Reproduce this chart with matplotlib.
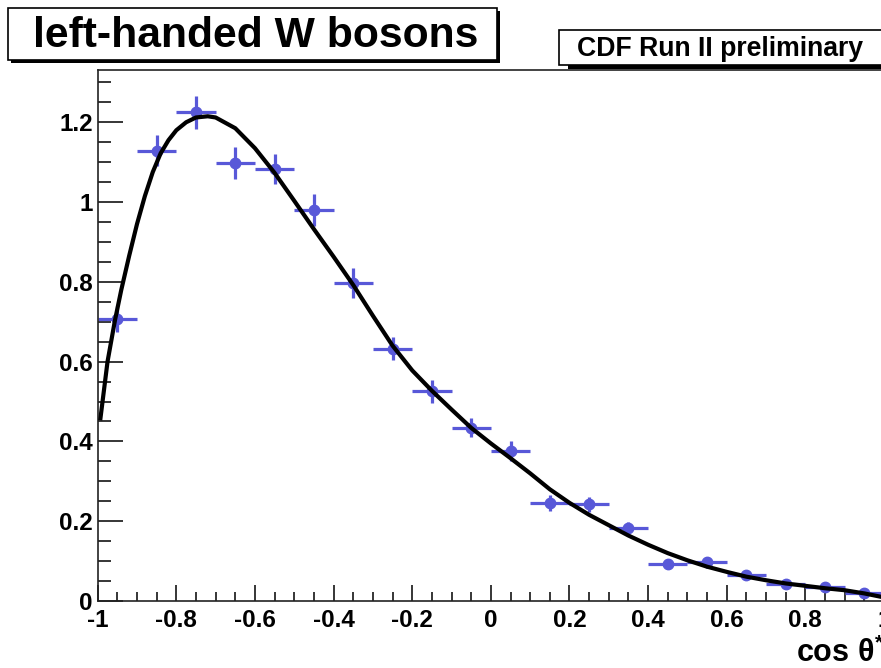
import numpy as np
import matplotlib
matplotlib.use("Agg")
import matplotlib.pyplot as plt
from matplotlib.patches import Rectangle
from matplotlib.ticker import MultipleLocator, FuncFormatter

plt.rcParams['font.family'] = ['Liberation Sans', 'DejaVu Sans']
plt.rcParams['font.weight'] = 'bold'
plt.rcParams['axes.unicode_minus'] = False
plt.rcParams['mathtext.fontset'] = 'custom'
plt.rcParams['mathtext.rm'] = 'Liberation Sans'
plt.rcParams['mathtext.bf'] = 'Liberation Sans:bold'
plt.rcParams['mathtext.it'] = 'Liberation Sans:italic'

# data points (bin centres, values, errors)
bin_centres = [-0.95, -0.85, -0.75, -0.65, -0.55, -0.45, -0.35, -0.25, -0.15, -0.05,
               0.05, 0.15, 0.25, 0.35, 0.45, 0.55, 0.65, 0.75, 0.85, 0.95]
values = [0.707, 1.129, 1.225, 1.099, 1.083, 0.979, 0.797, 0.632, 0.526, 0.434,
          0.376, 0.245, 0.242, 0.182, 0.093, 0.097, 0.065, 0.043, 0.036, 0.019]
y_err = [0.032, 0.038, 0.041, 0.040, 0.038, 0.040, 0.037, 0.029, 0.029, 0.024,
         0.025, 0.020, 0.019, 0.016, 0.012, 0.014, 0.012, 0.010, 0.010, 0.008]
bin_half = 0.05

# fit curve
fit_x = [-0.993, -0.975, -0.956, -0.94, -0.92, -0.90, -0.88, -0.86, -0.84, -0.82,
         -0.80, -0.775, -0.75, -0.72, -0.70, -0.65, -0.60, -0.55, -0.50, -0.45,
         -0.40, -0.35, -0.30, -0.25, -0.20, -0.15, -0.10, -0.05, 0.0, 0.05,
         0.10, 0.15, 0.20, 0.25, 0.30, 0.35, 0.40, 0.45, 0.50, 0.55,
         0.60, 0.65, 0.70, 0.75, 0.80, 0.85, 0.90, 0.95, 0.99]
fit_y = [0.458, 0.600, 0.704, 0.780, 0.865, 0.945, 1.015, 1.075, 1.122, 1.155,
         1.180, 1.200, 1.212, 1.215, 1.212, 1.185, 1.135, 1.073, 1.003, 0.932,
         0.863, 0.792, 0.715, 0.640, 0.578, 0.527, 0.480, 0.434, 0.395, 0.358,
         0.320, 0.280, 0.246, 0.216, 0.190, 0.164, 0.141, 0.120, 0.102, 0.086,
         0.073, 0.061, 0.052, 0.044, 0.038, 0.032, 0.027, 0.019, 0.011]

W, H = 881, 668
fig = plt.figure(figsize=(W / 100, H / 100), dpi=100)


def px(x0, y0):
    "pixel (from top-left) to figure fraction"
    return x0 / W, 1 - y0 / H


left, top, right, bottom = 97.7, 70, 884, 601
ax = fig.add_axes([left / W, 1 - bottom / H, (right - left) / W, (bottom - top) / H])

ax.plot(fit_x, fit_y, color='black', lw=3.0, zorder=3, solid_joinstyle='round')
ax.errorbar(bin_centres, values, xerr=bin_half, yerr=y_err, fmt='o', color='#5858d8',
            ms=7.5, elinewidth=2.3, capsize=0, zorder=2)

ax.set_xlim(-1, 1)
ax.set_ylim(0, 1.331)
ax.xaxis.set_major_locator(MultipleLocator(0.2))
ax.xaxis.set_minor_locator(MultipleLocator(0.05))
ax.yaxis.set_major_locator(MultipleLocator(0.2))
ax.yaxis.set_minor_locator(MultipleLocator(0.05))
fmt = FuncFormatter(lambda v, p: '%g' % round(v, 3))
ax.xaxis.set_major_formatter(fmt)
ax.yaxis.set_major_formatter(fmt)
ax.tick_params(axis='x', which='major', direction='in', length=11.5, width=1.1, pad=6, labelsize=17.5)
ax.tick_params(axis='x', which='minor', direction='in', length=6.3, width=1.1)
ax.tick_params(axis='y', which='major', direction='in', length=18, width=1.1, pad=3.5, labelsize=17.5)
ax.tick_params(axis='y', which='minor', direction='in', length=9.4, width=1.1)
for lab in ax.get_xticklabels() + ax.get_yticklabels():
    lab.set_fontweight('bold')
for s in ax.spines.values():
    s.set_linewidth(1.2)
    s.set_color('#222222')

# axis title (cut at the right edge, as in the original)
fig.text(*px(885, 662), r'$\mathbf{cos}\ \mathrm{\theta}^{*}$', ha='right', va='baseline',
         fontsize=22)

# title box with shadow
fig.patches.append(Rectangle(px(11, 63), 489 / W, 52 / H, transform=fig.transFigure,
                             facecolor='black', edgecolor='black', lw=0, zorder=5))
fig.patches.append(Rectangle(px(8, 60), 489 / W, 52 / H, transform=fig.transFigure,
                             facecolor='white', edgecolor='black', lw=1.2, zorder=6))
fig.text(*px(33, 47), 'left-handed W bosons', fontsize=30.7, fontweight='bold',
         ha='left', va='baseline', zorder=7)

# CDF label box with shadow
fig.patches.append(Rectangle(px(568, 69), 330 / W, 35 / H, transform=fig.transFigure,
                             facecolor='black', edgecolor='black', lw=0, zorder=5))
fig.patches.append(Rectangle(px(559, 65), 330 / W, 35 / H, transform=fig.transFigure,
                             facecolor='white', edgecolor='black', lw=1.2, zorder=6))
fig.text(*px(577, 56), 'CDF Run II preliminary', fontsize=19.2, fontweight='bold',
         ha='left', va='baseline', zorder=7)

fig.savefig('out.png', dpi=100)
